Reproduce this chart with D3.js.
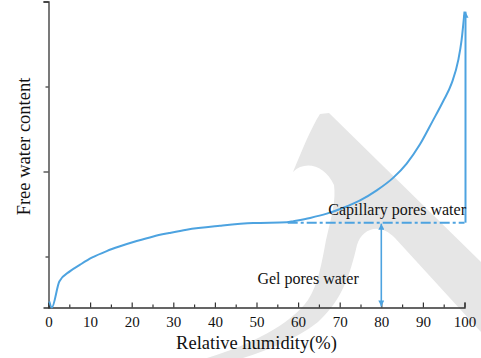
<!DOCTYPE html>
<html>
<head>
<meta charset="utf-8">
<script src="https://cdn.jsdelivr.net/npm/d3@7/dist/d3.min.js"></script>
<style>
  html, body { margin: 0; padding: 0; background: #fff; }
  svg { display: block; }
  text { font-family: "Liberation Serif", "Times New Roman", serif; fill: #111; }
</style>
</head>
<body>
<svg id="chart" width="481" height="358"></svg>
<script>
// Relative humidity (%) sampled along the free-water curve
const humidity = [0.2, 0.8, 2.6, 5.2, 7.6, 10.4, 14.0, 17.2, 21.2, 25.2, 29.0, 33.2, 41.2, 49.2,
  57.3, 58.9, 62.9, 66.9, 70.9, 74.9, 78.9, 82.9, 86.1, 89.3, 92.3, 94.9, 96.9, 98.5, 99.3, 100];
// Free water content (arbitrary units) at each humidity
const waterContent = [0.235, 0.2, 0.353, 0.414, 0.452, 0.493, 0.532, 0.560, 0.591, 0.618, 0.638, 0.658, 0.681, 0.697,
  0.701, 0.708, 0.727, 0.752, 0.787, 0.830, 0.889, 0.964, 1.047, 1.160, 1.295, 1.415, 1.518, 1.655, 1.773, 1.940];

const xTicks = [0, 10, 20, 30, 40, 50, 60, 70, 80, 90, 100];
const xMinorTicks = [5, 15, 25, 35, 45, 55, 65, 75, 85, 95];
const yTicks = [1, 2];
const yMinorTicks = [0.5, 1.5];

// Gel / capillary boundary level and where the dash-dot line starts
const gelLevel = 0.699;
const boundaryStart = 57.5;
const gelArrowAt = 80;
const topArrowAt = 100;
const topArrowEnd = 1.94;

const labels = [
  { text: "Capillary pores water", x: 83.8, y: 0.742 },
  { text: "Gel pores water", x: 62.4, y: 0.341 }
];

const svg = d3.select("#chart");
const blue = "#4da3e0";
const axisColor = "#333";

// faint background emblem
svg.append("path")
  .attr("fill", "#e6e6e6")
  .attr("d", "M293,172 C302,150 311,128 320,114 L329,113 L481,262 L481,332 L395,238 " +
             "C380,222 362,228 357,245 C350,275 342,300 318,322 C295,340 268,350 243,358 L207,358 " +
             "C250,345 290,325 308,300 C318,285 322,262 326,240 C332,215 336,200 334,185 " +
             "C325,165 305,160 293,172 Z");

const x = d3.scaleLinear().domain([0, 100]).range([48.5, 464.5]);
const y = d3.scaleLinear().domain([0.2, 2.0]).range([307.5, 1.5]);

// arrow heads
const defs = svg.append("defs");
defs.append("marker")
  .attr("id", "head")
  .attr("viewBox", "0 0 10 10")
  .attr("refX", 10).attr("refY", 5)
  .attr("markerWidth", 8).attr("markerHeight", 6)
  .attr("markerUnits", "userSpaceOnUse")
  .attr("orient", "auto-start-reverse")
  .append("path")
  .attr("d", "M0,0 L10,5 L0,10 Z")
  .attr("fill", blue);

// axes
const xAxis = d3.axisBottom(x).tickValues(xTicks).tickSize(-5).tickPadding(9).tickFormat(d3.format("d"));
const gx = svg.append("g").attr("transform", `translate(0,${y.range()[0]})`).call(xAxis);
gx.select(".domain").attr("stroke", axisColor).attr("stroke-width", 1.3);
gx.selectAll(".tick line").attr("stroke", axisColor).attr("stroke-width", 1.2);
gx.selectAll(".tick text").attr("font-size", 15).attr("fill", "#111")
  .attr("font-family", "'Liberation Serif', serif");
svg.append("g").attr("transform", `translate(0,${y.range()[0]})`)
  .call(d3.axisBottom(x).tickValues(xMinorTicks).tickSize(-3).tickFormat(""))
  .call(g => g.select(".domain").remove())
  .call(g => g.selectAll(".tick line").attr("stroke", axisColor).attr("stroke-width", 1.2));

const gy = svg.append("g").attr("transform", `translate(${x.range()[0]},0)`)
  .call(d3.axisLeft(y).tickValues(yTicks).tickSize(5).tickFormat(""));
gy.select(".domain").attr("stroke", axisColor).attr("stroke-width", 1.3);
gy.selectAll(".tick line").attr("stroke", axisColor).attr("stroke-width", 1.2);
svg.append("g").attr("transform", `translate(${x.range()[0]},0)`)
  .call(d3.axisLeft(y).tickValues(yMinorTicks).tickSize(3).tickFormat(""))
  .call(g => g.select(".domain").remove())
  .call(g => g.selectAll(".tick line").attr("stroke", axisColor).attr("stroke-width", 1.2));

// axis titles
svg.append("text")
  .attr("x", (x.range()[0] + x.range()[1]) / 2).attr("y", 348.5)
  .attr("text-anchor", "middle").attr("font-size", 18.5)
  .text("Relative humidity(%)");
svg.append("text")
  .attr("transform", "translate(30,146.5) rotate(-90)")
  .attr("text-anchor", "middle").attr("font-size", 18.5)
  .text("Free water content");

// free water curve
const pts = humidity.map((h, i) => [h, waterContent[i]]);
svg.append("path")
  .datum(pts)
  .attr("fill", "none").attr("stroke", blue).attr("stroke-width", 2)
  .attr("stroke-linejoin", "round")
  .attr("d", d3.line().curve(d3.curveMonotoneX).x(d => x(d[0])).y(d => y(d[1])));

// gel / capillary boundary
svg.append("line")
  .attr("x1", x(boundaryStart)).attr("x2", x(100))
  .attr("y1", y(gelLevel)).attr("y2", y(gelLevel))
  .attr("stroke", blue).attr("stroke-width", 2)
  .attr("stroke-dasharray", "10,3,3,3");

// capillary pores arrow at 100%
svg.append("line")
  .attr("x1", x(topArrowAt) + 1).attr("x2", x(topArrowAt) + 1)
  .attr("y1", y(gelLevel)).attr("y2", y(topArrowEnd))
  .attr("stroke", blue).attr("stroke-width", 2)
  .attr("marker-end", "url(#head)");

// gel pores double arrow at 80%
svg.append("line")
  .attr("x1", x(gelArrowAt)).attr("x2", x(gelArrowAt))
  .attr("y1", y(gelLevel) + 1).attr("y2", y(0.2) - 1)
  .attr("stroke", blue).attr("stroke-width", 1.6)
  .attr("marker-start", "url(#head)")
  .attr("marker-end", "url(#head)");

// region labels
svg.selectAll("text.region").data(labels).join("text")
  .attr("class", "region")
  .attr("x", d => x(d.x)).attr("y", d => y(d.y))
  .attr("text-anchor", "middle").attr("font-size", 16)
  .text(d => d.text);
</script>
</body>
</html>
